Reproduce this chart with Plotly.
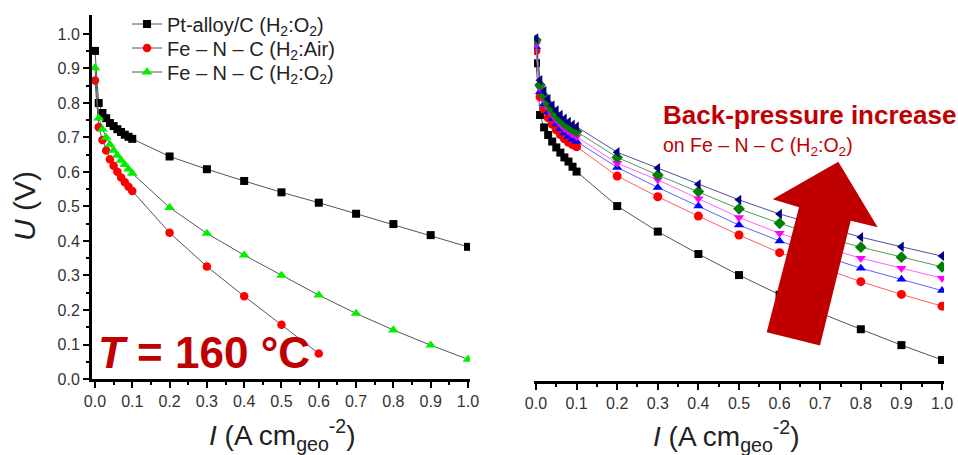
import plotly.graph_objects as go

# ---------------- data ----------------
I_low = [0.0, 0.01, 0.02, 0.03, 0.04, 0.05, 0.06, 0.07, 0.08, 0.09, 0.1]
I_high = [0.2, 0.3, 0.4, 0.5, 0.6, 0.7, 0.8, 0.9, 1.0]

# Left panel
left_names = ["Pt-alloy/C (H<sub>2</sub>:O<sub>2</sub>)",
              "Fe – N – C (H<sub>2</sub>:Air)",
              "Fe – N – C (H<sub>2</sub>:O<sub>2</sub>)"]
pt_alloy_I = I_low + I_high
pt_alloy_U = [0.951, 0.800, 0.771, 0.756, 0.742, 0.733, 0.724, 0.716, 0.708, 0.702, 0.696,
              0.645, 0.608, 0.574, 0.541, 0.511, 0.479, 0.449, 0.417, 0.383]
fenc_air_I = I_low + [0.2, 0.3, 0.4, 0.5, 0.6]
fenc_air_U = [0.865, 0.730, 0.693, 0.662, 0.637, 0.618, 0.601, 0.584, 0.570, 0.557, 0.545,
              0.424, 0.326, 0.240, 0.157, 0.074]
fenc_o2_I = I_low + I_high
fenc_o2_U = [0.902, 0.756, 0.724, 0.700, 0.680, 0.663, 0.648, 0.634, 0.621, 0.608, 0.596,
             0.497, 0.422, 0.359, 0.300, 0.243, 0.190, 0.142, 0.098, 0.057]

# Right panel (back-pressure series)
bp_I = I_low + I_high
bp_black_U = [0.921, 0.771, 0.735, 0.713, 0.694, 0.677, 0.662, 0.648, 0.636, 0.621, 0.607,
              0.507, 0.433, 0.368, 0.307, 0.250, 0.197, 0.150, 0.104, 0.061]
bp_red_U = [0.957, 0.824, 0.788, 0.763, 0.744, 0.728, 0.714, 0.702, 0.692, 0.685, 0.679,
            0.594, 0.534, 0.478, 0.423, 0.372, 0.330, 0.288, 0.251, 0.217]
bp_blue_U = [0.969, 0.838, 0.803, 0.779, 0.760, 0.745, 0.731, 0.719, 0.709, 0.701, 0.694,
             0.619, 0.561, 0.507, 0.452, 0.406, 0.365, 0.327, 0.295, 0.262]
bp_magenta_U = [0.975, 0.848, 0.814, 0.790, 0.772, 0.757, 0.744, 0.732, 0.723, 0.715, 0.708,
                0.631, 0.583, 0.528, 0.474, 0.428, 0.390, 0.356, 0.327, 0.298]
bp_green_U = [0.988, 0.858, 0.826, 0.803, 0.785, 0.770, 0.757, 0.746, 0.737, 0.729, 0.723,
              0.648, 0.597, 0.549, 0.499, 0.457, 0.420, 0.388, 0.359, 0.331]
bp_navy_U = [0.993, 0.872, 0.840, 0.817, 0.799, 0.784, 0.771, 0.760, 0.751, 0.743, 0.737,
             0.663, 0.617, 0.570, 0.525, 0.484, 0.450, 0.417, 0.389, 0.362]

tick_vals = [0.0, 0.1, 0.2, 0.3, 0.4, 0.5, 0.6, 0.7, 0.8, 0.9, 1.0]
tick_text = ["0.0", "0.1", "0.2", "0.3", "0.4", "0.5", "0.6", "0.7", "0.8", "0.9", "1.0"]
minor_vals = [0.05, 0.15, 0.25, 0.35, 0.45, 0.55, 0.65, 0.75, 0.85, 0.95]

FONT = "Arial, Liberation Sans, sans-serif"
DARKRED = "#C00000"
W, H = 958, 455

def px(x):
    return x / W

def py(y):
    return 1 - y / H

fig = go.Figure()

# ---------------- left panel ----------------
left_series = [
    (pt_alloy_I, pt_alloy_U, "square", "black", 8),
    (fenc_air_I, fenc_air_U, "circle", "#FF0000", 8.5),
    (fenc_o2_I, fenc_o2_U, "triangle-up", "#00EE00", 9.5),
]
legend_ids = ["legend", "legend2", "legend3"]
for name, lid, (xs, ys, sym, col, sz) in zip(left_names, legend_ids, left_series):
    fig.add_trace(go.Scatter(
        x=xs, y=ys, name=name, mode="lines+markers", legend=lid,
        line=dict(color="#555555", width=1),
        marker=dict(symbol=sym, color=col, size=sz, line=dict(width=0)),
        xaxis="x", yaxis="y"))

# ---------------- right panel ----------------
right_series = [
    (bp_black_U, "square", "black", "#555555", 8),
    (bp_red_U, "circle", "#FF0000", "#FF6060", 9),
    (bp_blue_U, "triangle-up", "#0000FF", "#6060FF", 9),
    (bp_magenta_U, "triangle-down", "#FF00FF", "#FF60FF", 9),
    (bp_green_U, "diamond", "#008000", "#50A050", 9),
    (bp_navy_U, "triangle-left", "#000080", "#5050A0", 9),
]
for ys, sym, col, lcol, sz in right_series:
    fig.add_trace(go.Scatter(
        x=bp_I, y=ys, mode="lines+markers", showlegend=False,
        line=dict(color=lcol, width=1),
        marker=dict(symbol=sym, color=col, size=sz, line=dict(width=0)),
        xaxis="x2", yaxis="y2"))

axis_common = dict(
    showgrid=False, zeroline=False, showline=True, linecolor="black", linewidth=3,
    ticks="outside", ticklen=6, tickwidth=1.5, tickcolor="black",
    tickfont=dict(family=FONT, size=16, color="#333333"),
    ticklabeloverflow="allow", automargin=False,
)
minor_cfg = dict(tickmode="array", tickvals=minor_vals, ticks="outside",
                 ticklen=3, tickwidth=1.5, tickcolor="black")
x_common = dict(axis_common, tickmode="array", tickvals=tick_vals, ticktext=tick_text,
                minor=minor_cfg)

legend_common = dict(x=px(127), xanchor="left", yanchor="middle",
                     bgcolor="rgba(0,0,0,0)", borderwidth=0,
                     font=dict(family=FONT, size=20, color="#222222"),
                     itemwidth=30)

fig.update_layout(
    width=W, height=H, autosize=False,
    margin=dict(l=0, r=0, t=0, b=0, pad=0, autoexpand=False),
    paper_bgcolor="white", plot_bgcolor="white",
    font=dict(family=FONT, color="black"),
    xaxis=dict(x_common, domain=[px(92), px(470)], range=[-0.008, 1.0054], anchor="y"),
    yaxis=dict(axis_common, domain=[py(379), py(15)], range=[0, 1.055], anchor="x",
               tickmode="array", tickvals=tick_vals, ticktext=tick_text, minor=minor_cfg),
    xaxis2=dict(x_common, domain=[px(534), px(944)], range=[-0.0049, 1.0049], anchor="y2"),
    yaxis2=dict(domain=[py(381), py(17)], range=[0, 1.055], anchor="x2",
                showline=False, showgrid=False, zeroline=False, showticklabels=False,
                ticks="", automargin=False),
    legend=dict(legend_common, y=py(24)),
    legend2=dict(legend_common, y=py(48)),
    legend3=dict(legend_common, y=py(72)),
    showlegend=True,
)

annotations = [
    dict(text="<i>U</i> (V)", x=px(25), y=py(206), textangle=-90,
         font=dict(family=FONT, size=30, color="#222222")),
    dict(text="<i>I</i> (A cm<sub>geo</sub><sup>-2</sup>)", x=px(282), y=py(435),
         font=dict(family=FONT, size=28, color="#222222")),
    dict(text="<i>I</i> (A cm<sub>geo</sub><sup>-2</sup>)", x=px(726), y=py(436),
         font=dict(family=FONT, size=28, color="#222222")),
    dict(text="<b><i>T</i> = 160 °C</b>", x=px(204), y=py(352),
         font=dict(family=FONT, size=44, color=DARKRED)),
    dict(text="<b>Back-pressure increase</b>", x=px(661), y=py(115), xanchor="left",
         font=dict(family=FONT, size=26, color=DARKRED)),
    dict(text="on Fe – N – C (H<sub>2</sub>:O<sub>2</sub>)", x=px(661), y=py(147),
         xanchor="left", font=dict(family=FONT, size=19.5, color=DARKRED)),
]
for a in annotations:
    a.update(xref="paper", yref="paper", showarrow=False, xanchor=a.get("xanchor", "center"),
             yanchor="middle")
fig.update_layout(annotations=annotations)

# big block arrow (decoration), pixel vertices converted to paper coords
arrow_px = [(838.3, 161.7), (877.7, 227.3), (850.7, 220.7), (820.0, 345.5),
            (766.7, 332.3), (799.0, 207.3), (772.7, 199.3)]
path = "M " + " L ".join(f"{px(x):.5f},{py(y):.5f}" for x, y in arrow_px) + " Z"
fig.add_shape(type="path", path=path, xref="paper", yref="paper",
              fillcolor=DARKRED, line=dict(width=0), layer="above")

fig.write_html("out.html", config={"displayModeBar": False},
               post_script="document.body.style.margin='0';"
                           "document.body.style.overflow='hidden';")
